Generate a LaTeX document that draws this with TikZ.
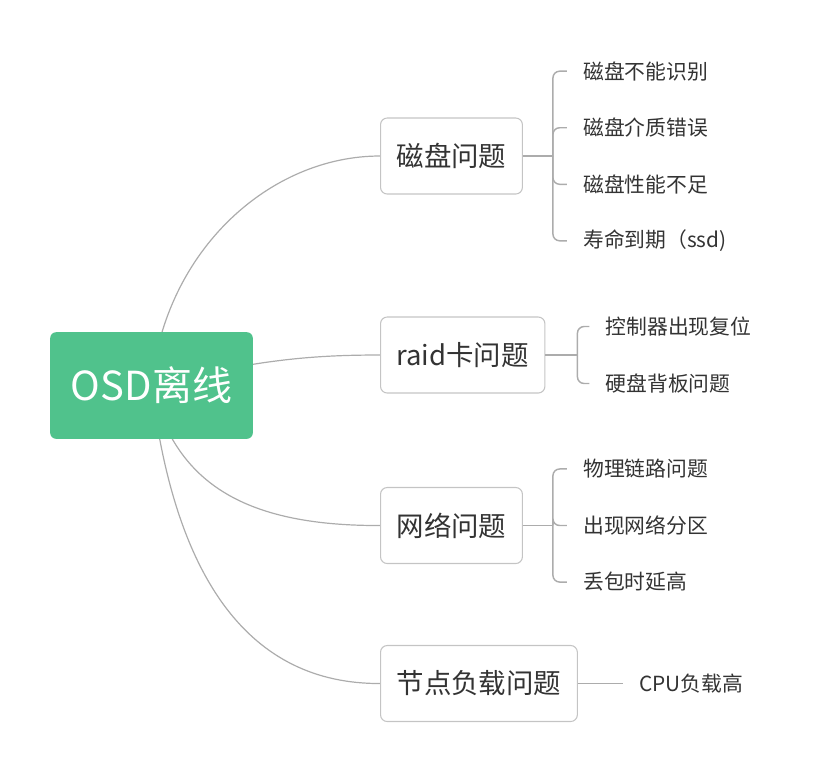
\documentclass[tikz,border=0pt]{standalone}
\usepackage{fontspec}
\setmainfont{Noto Sans CJK SC}
\usepackage{xcolor}
\usetikzlibrary{positioning, backgrounds}
\definecolor{rootgreen}{RGB}{80,194,140}
\definecolor{boxgray}{RGB}{196,196,196}
\definecolor{linegray}{RGB}{172,172,172}
\definecolor{txtgray}{RGB}{51,51,51}

\begin{document}
\begin{tikzpicture}[x=0.75pt, y=-0.75pt,
        root/.style={rounded corners=4.5pt, fill=rootgreen, text=white, font=\fontsize{30pt}{36pt}\selectfont,
            minimum width=152pt, minimum height=80pt, inner xsep=14pt},
        br/.style={draw=boxgray, line width=0.8pt, rounded corners=5pt, text=txtgray,
            font=\fontsize{20.6pt}{24pt}\selectfont, minimum height=57pt, inner xsep=12pt, anchor=west},
        lf/.style={text=txtgray, font=\fontsize{15.6pt}{18pt}\selectfont, inner xsep=12pt, inner ysep=2pt},
        e/.style={draw=linegray, line width=0.9pt},
        lk/.style={draw=linegray, line width=1.1pt, rounded corners=5pt}]
        \useasboundingbox (0,0) rectangle (816,776);

        \node[root] (root) at (151.5,385.5) {OSD离线};

        \foreach \n/\y/\t in {b1/156/磁盘问题, b2/355/raid卡问题, b3/525.5/网络问题, b4/683.5/节点负载问题}
        \node[br] (\n) at (380,\y) {\t};

        \begin{scope}[on background layer]
        \draw[e] (root.center) .. controls (165,250) and (270,156) .. (b1.west);
        \draw[e] (root.center) .. controls (255,360) and (310,355) .. (b2.west);
        \draw[e] (root.center) .. controls (175,480) and (240,526) .. (b3.west);
        \draw[e] (root.center) .. controls (175,580) and (250,684) .. (b4.west);
        \end{scope}

        \foreach \t [count=\i] in {磁盘不能识别, 磁盘介质错误, 磁盘性能不足, 寿命到期（ssd)}
        \node[lf, right=33pt of b1, yshift={(2.5-\i)*42.4pt}] (a\i) {\t};
        \draw[e] (b1.east) -- ++(30,0) coordinate (s1);
        \foreach \i in {1,...,4}
        \draw[lk] (s1) |- (a\i.west);

        \foreach \t [count=\i] in {控制器出现复位, 硬盘背板问题}
        \node[lf, right=33pt of b2, yshift={(1.5-\i)*42.75pt}] (r\i) {\t};
        \draw[e] (b2.east) -- ++(32,0) coordinate (s2);
        \foreach \i in {1,2}
        \draw[lk] (s2) |- (r\i.west);

        \foreach \t [count=\i] in {物理链路问题, 出现网络分区, 丢包时延高}
        \node[lf, right=33pt of b3, yshift={(2-\i)*42.4pt}] (w\i) {\t};
        \draw[e] (b3.east) -- ++(30,0) coordinate (s3);
        \foreach \i in {1,2,3}
        \draw[lk] (s3) |- (w\i.west);

        \node[lf, right=34pt of b4] (c1) {CPU负载高};
        \draw[lk] (b4.east) -- (c1.west);
      \end{tikzpicture}
\end{document}
